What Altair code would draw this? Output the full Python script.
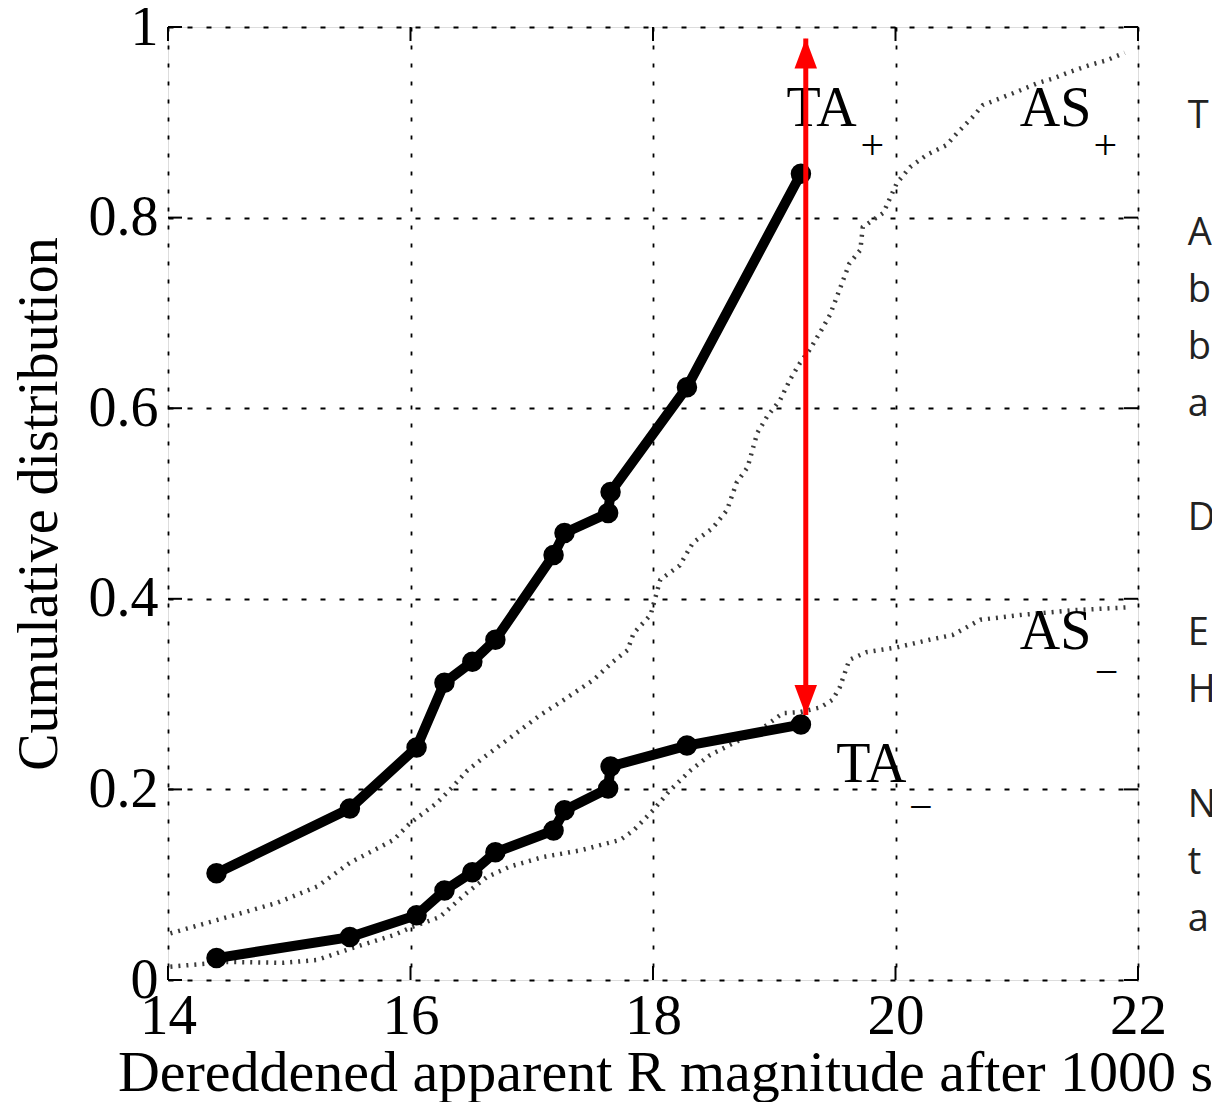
import altair as alt
import pandas as pd

# ---- data ----
ta_mag = [14.40, 15.50, 16.05, 16.28, 16.51, 16.70, 17.18, 17.27, 17.63, 17.65, 18.28, 19.22]
ta_plus = [0.112, 0.180, 0.244, 0.312, 0.334, 0.357, 0.446, 0.469, 0.490, 0.512, 0.622, 0.846]
ta_minus = [0.023, 0.045, 0.068, 0.094, 0.113, 0.134, 0.157, 0.178, 0.201, 0.224, 0.246, 0.268]

as_plus_mag = [14.02, 14.49, 14.90, 15.23, 15.50, 15.86, 16.00, 16.22, 16.35, 16.47, 16.63, 16.82,
               17.07, 17.23, 17.51, 17.67, 17.79, 17.84, 17.98, 18.06, 18.22, 18.33, 18.49, 18.61,
               18.69, 18.78, 18.86, 18.94, 19.05, 19.13, 19.21, 19.29, 19.38, 19.46, 19.57, 19.62,
               19.71, 19.73, 19.90, 20.01, 20.12, 20.26, 20.42, 20.51, 20.64, 20.72, 20.86, 21.00,
               21.17, 21.30, 21.44, 21.60, 21.74, 21.89]
as_plus_cdf = [0.049, 0.066, 0.081, 0.098, 0.123, 0.147, 0.165, 0.186, 0.203, 0.220, 0.236, 0.254,
               0.278, 0.291, 0.315, 0.334, 0.346, 0.364, 0.383, 0.420, 0.435, 0.459, 0.474, 0.493,
               0.522, 0.538, 0.574, 0.591, 0.609, 0.630, 0.647, 0.661, 0.680, 0.698, 0.735, 0.752,
               0.766, 0.790, 0.805, 0.836, 0.853, 0.866, 0.876, 0.889, 0.906, 0.918, 0.925, 0.932,
               0.941, 0.946, 0.953, 0.960, 0.965, 0.973]

as_minus_mag = [14.02, 14.49, 14.95, 15.23, 15.53, 15.86, 16.02, 16.24, 16.47, 16.63, 16.82, 17.09,
                17.40, 17.73, 17.84, 18.00, 18.14, 18.31, 18.47, 18.64, 18.88, 19.07, 19.21, 19.38,
                19.48, 19.54, 19.62, 19.76, 20.01, 20.28, 20.47, 20.70, 21.03, 21.46, 21.91]
as_minus_cdf = [0.014, 0.019, 0.018, 0.021, 0.034, 0.047, 0.056, 0.066, 0.092, 0.108, 0.119, 0.129,
                0.136, 0.147, 0.157, 0.178, 0.199, 0.220, 0.236, 0.247, 0.262, 0.280, 0.281, 0.286,
                0.294, 0.307, 0.336, 0.344, 0.349, 0.357, 0.362, 0.378, 0.383, 0.388, 0.391]

x_ticks = [14, 16, 18, 20, 22]
y_ticks = [0, 0.2, 0.4, 0.6, 0.8, 1]

arrow_mag = [19.26]
arrow_top = [0.988]
arrow_bottom = [0.278]

label_text = ["TA", "+", "AS", "+", "AS", "\u2212", "TA", "\u2212"]
label_mag = [19.39, 19.81, 21.32, 21.73, 21.32, 21.74, 19.80, 20.21]
label_cdf = [0.914, 0.875, 0.914, 0.875, 0.365, 0.322, 0.226, 0.181]
label_kind = ["main", "sub", "main", "sub", "main", "sub", "main", "sub"]

side_letters = ["T", "A", "b", "b", "a", "D", "E", "H", "N", "t", "a"]
side_cdf = [0.894, 0.771, 0.711, 0.652, 0.592, 0.472, 0.352, 0.292, 0.171, 0.111, 0.051]
side_mag = [22.41] * len(side_letters)

# ---- tables ----
ta_df = pd.DataFrame({"mag": ta_mag * 2,
                      "cdf": ta_plus + ta_minus,
                      "series": ["TA+"] * len(ta_mag) + ["TA-"] * len(ta_mag),
                      "order": list(range(len(ta_mag))) * 2})
as_df = pd.DataFrame({"mag": as_plus_mag + as_minus_mag,
                      "cdf": as_plus_cdf + as_minus_cdf,
                      "series": ["AS+"] * len(as_plus_mag) + ["AS-"] * len(as_minus_mag),
                      "order": list(range(len(as_plus_mag))) + list(range(len(as_minus_mag)))})
arrow_df = pd.DataFrame({"mag": arrow_mag, "cdf": arrow_top, "bottom": arrow_bottom})
lab_df = pd.DataFrame({"mag": label_mag, "cdf": label_cdf, "text": label_text, "kind": label_kind})
side_df = pd.DataFrame({"mag": side_mag, "cdf": side_cdf, "text": side_letters})
xt_df = pd.DataFrame({"mag": x_ticks})
yt_df = pd.DataFrame({"cdf": y_ticks})

W, H = 970, 953
SERIF = "Liberation Serif"
xs = alt.Scale(domain=[14, 22], nice=False, zero=False)
ys = alt.Scale(domain=[0, 1], nice=False, zero=False)

x_axis = alt.Axis(values=x_ticks, grid=True, gridDash=[4, 14], gridColor="black", gridWidth=1.8,
                  gridOpacity=1, ticks=False, domain=False, labelFont=SERIF, labelFontSize=57,
                  labelColor="black", labelPadding=8, labelFlush=False, labelOverlap=False,
                  title="Dereddened apparent R magnitude after 1000 s", titleFont=SERIF,
                  titleFontSize=58, titleFontWeight="normal", titleColor="black", titlePadding=0,
                  titleX=497)
y_axis = alt.Axis(values=y_ticks, format="~g", grid=True, gridDash=[5, 14], gridColor="black",
                  gridWidth=1.8, gridOpacity=1, ticks=False, domain=False, labelFont=SERIF,
                  labelFontSize=56, labelColor="black", labelPadding=10, labelFlush=False,
                  labelOverlap=False, title="Cumulative distribution", titleFont=SERIF,
                  titleFontSize=56, titleFontWeight="normal", titleColor="black", titlePadding=20)

X = alt.X("mag:Q", scale=xs, axis=x_axis)
Y = alt.Y("cdf:Q", scale=ys, axis=y_axis)

as_lines = alt.Chart(as_df).mark_line(strokeDash=[2, 6], strokeWidth=4.5, color="#3a3a3a").encode(
    x=X, y=Y, detail="series:N", order="order:Q")

ta_lines = alt.Chart(ta_df).mark_line(strokeWidth=10, color="black").encode(
    x=X, y=Y, detail="series:N", order="order:Q")
ta_points = alt.Chart(ta_df).mark_circle(size=420, color="black", opacity=1).encode(x=X, y=Y)

# inside ticks on all four sides
tick_style = dict(color="black", strokeWidth=2)
t_left = alt.Chart(yt_df).mark_rule(**tick_style).encode(y=Y, x=alt.value(0), x2=alt.value(14))
t_right = alt.Chart(yt_df).mark_rule(**tick_style).encode(y=Y, x=alt.value(W - 14), x2=alt.value(W))
t_bottom = alt.Chart(xt_df).mark_rule(**tick_style).encode(x=X, y=alt.value(H - 14), y2=alt.value(H))
t_top = alt.Chart(xt_df).mark_rule(**tick_style).encode(x=X, y=alt.value(0), y2=alt.value(14))

# red double-headed arrow
arrow_rule = alt.Chart(arrow_df).mark_rule(color="#ff0000", strokeWidth=5).encode(
    x=X, y=Y, y2="bottom:Q")
head_up = alt.Chart(arrow_df).mark_point(
    shape="M0,-1L0.75,1L-0.75,1Z", size=900, filled=True, color="#ff0000", opacity=1, yOffset=15
).encode(x=X, y=Y)
head_down = alt.Chart(arrow_df).mark_point(
    shape="M0,1L0.75,-1L-0.75,-1Z", size=900, filled=True, color="#ff0000", opacity=1, yOffset=-15
).encode(x=X, y=alt.Y("bottom:Q", scale=ys, axis=y_axis))

labels_main = alt.Chart(lab_df).transform_filter(alt.datum.kind == "main").mark_text(
    font=SERIF, fontSize=56, color="black", align="center", baseline="middle"
).encode(x=X, y=Y, text="text:N")
labels_sub = alt.Chart(lab_df).transform_filter(alt.datum.kind == "sub").mark_text(
    font=SERIF, fontSize=42, color="black", align="center", baseline="middle"
).encode(x=X, y=Y, text="text:N")

side_text = alt.Chart(side_df).mark_text(
    font="Open Sans", fontSize=38, color="#222222", align="left", baseline="alphabetic"
).encode(x=X, y=Y, text="text:N")

chart = alt.layer(
    as_lines, ta_lines, ta_points, t_left, t_right, t_bottom, t_top,
    labels_main, labels_sub, arrow_rule, head_up, head_down, side_text
).properties(
    width=W, height=H,
    padding={"left": 160, "top": 19, "right": 74, "bottom": 122},
    autosize=alt.AutoSizeParams(type="none"),
).configure_view(stroke="black", strokeWidth=2.5).configure(background="white")

chart.save("out.html", embed_options={"renderer": "svg", "actions": False})
